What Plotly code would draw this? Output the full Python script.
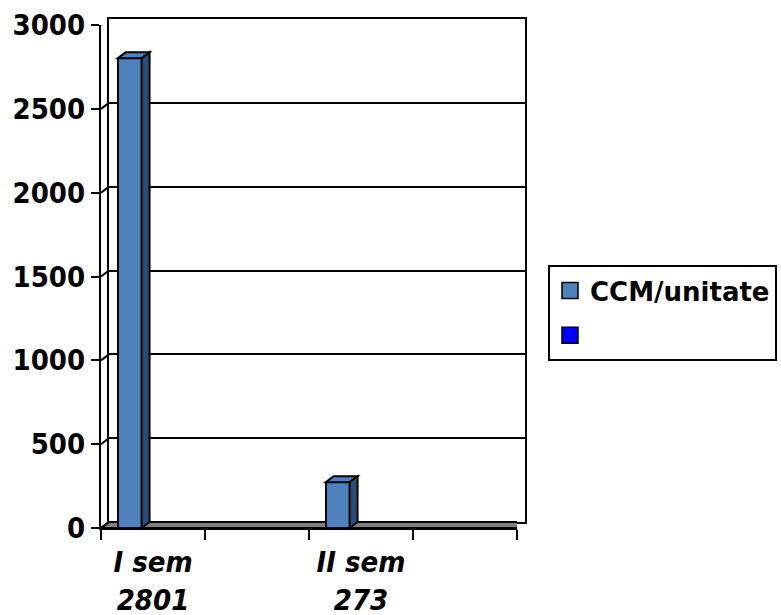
import plotly.graph_objects as go

# Chart data: four category slots, only two carry a value
categories = ["I sem", "", "II sem", ""]
ccm_values = [2801, None, 273, None]
y_ticks = [0, 500, 1000, 1500, 2000, 2500, 3000]
series_name = "CCM/unitate"
second_name = ""

# Colours
bar_color = "#4F81BD"
side_color = "#2C4D75"
top_color = "#4F81BD"
second_color = "#0000FF"
floor_color = "#808080"

# Canvas and plot-area geometry (pixels)
W, H = 781, 615
left, right, top, bottom = 101, 517, 25, 528
dx, dy = 8, 6                      # depth of the pseudo-3D back wall
y_max = y_ticks[-1]
n = len(categories)

px_per_x = (right - left) / n
px_per_y = (bottom - top) / y_max
ddx = dx / px_per_x                # depth in data units
ddy = dy / px_per_y

bar_offset, bar_width = -0.34, 0.23

tick_pos = [i for i, v in enumerate(ccm_values) if v is not None]
tick_text = [f"{categories[i]}<br>{ccm_values[i]}" for i in tick_pos]

fig = go.Figure()

# Back wall (xaxis / yaxis): gridlines only, drawn first so it sits behind
fig.add_trace(go.Scatter(x=[None], y=[None], xaxis="x", yaxis="y",
                         showlegend=False, hoverinfo="skip"))

# Front subplot (xaxis2 / yaxis2): the bars and the labelled axes
fig.add_trace(go.Bar(
    x=list(range(n)), y=ccm_values, xaxis="x2", yaxis="y2",
    width=bar_width, offset=bar_offset,
    marker=dict(color=bar_color, line=dict(color="black", width=2)),
    showlegend=False, name=series_name,
))

# Legend entries
fig.add_trace(go.Scatter(
    x=[None], y=[None], xaxis="x2", yaxis="y2", mode="markers",
    name=series_name,
    marker=dict(symbol="square", size=18, color=bar_color,
                line=dict(color="black", width=1.5)),
    legendgroup="a",
))
fig.add_trace(go.Scatter(
    x=[None], y=[None], xaxis="x2", yaxis="y2", mode="markers",
    name=second_name,
    marker=dict(symbol="square", size=18, color=second_color,
                line=dict(color="black", width=1.5)),
    legendgroup="b",
))

shapes = []
# Floor slab
shapes.append(dict(
    type="path", xref="x2", yref="y2", layer="below",
    path=(f"M{-0.5},0 L{n - 0.5},0 L{n - 0.5 + ddx},{ddy} "
          f"L{-0.5 + ddx},{ddy} Z"),
    fillcolor=floor_color, line=dict(color="black", width=2),
))
# Slanted tick connectors from front axis to back wall
for v in y_ticks:
    shapes.append(dict(
        type="line", xref="x2", yref="y2", layer="above",
        x0=-0.5, y0=v, x1=-0.5 + ddx, y1=v + ddy,
        line=dict(color="black", width=2),
    ))
# Top and side faces of each bar
for i, v in enumerate(ccm_values):
    if v is None:
        continue
    l = i + bar_offset
    r = l + bar_width
    shapes.append(dict(
        type="path", xref="x2", yref="y2", layer="above",
        path=f"M{l},{v} L{r},{v} L{r + ddx},{v + ddy} L{l + ddx},{v + ddy} Z",
        fillcolor=top_color, line=dict(color="black", width=2),
    ))
    shapes.append(dict(
        type="path", xref="x2", yref="y2", layer="above",
        path=f"M{r},0 L{r},{v} L{r + ddx},{v + ddy} L{r + ddx},{ddy} Z",
        fillcolor=side_color, line=dict(color="black", width=2),
    ))

tick_font = dict(family="DejaVu Sans Condensed", size=29, color="black",
                 weight="bold")
cat_font = dict(family="DejaVu Sans Condensed", size=29, color="black",
                weight="bold", style="italic")

fig.update_layout(
    width=W, height=H,
    margin=dict(l=0, r=0, t=0, b=0, autoexpand=False),
    paper_bgcolor="white", plot_bgcolor="rgba(0,0,0,0)",
    bargap=0,
    shapes=shapes,
    xaxis=dict(
        domain=[(left + dx) / W, (right + dx) / W], range=[-0.5, n - 0.5],
        anchor="y",
        showticklabels=False, ticks="", showgrid=False, zeroline=False,
        showline=True, mirror=True, linecolor="black", linewidth=2,
    ),
    yaxis=dict(
        domain=[1 - (bottom - dy) / H, 1 - (top - dy) / H], range=[0, y_max],
        anchor="x",
        tickmode="array", tickvals=y_ticks,
        showticklabels=False, ticks="",
        showgrid=True, gridcolor="black", gridwidth=2, zeroline=False,
        showline=True, mirror=True, linecolor="black", linewidth=2,
    ),
    xaxis2=dict(
        domain=[left / W, right / W], range=[-0.5, n - 0.5], anchor="y2",
        tickmode="array", tickvals=tick_pos, ticktext=tick_text,
        ticks="", tickfont=cat_font, ticklabelstandoff=7,
        showline=True, linecolor="black", linewidth=2,
        showgrid=False, zeroline=False,
        minor=dict(tickmode="linear", tick0=-0.5, dtick=1, ticks="outside",
                   ticklen=10, tickwidth=2, tickcolor="black", showgrid=False),
    ),
    yaxis2=dict(
        domain=[1 - bottom / H, 1 - top / H], range=[0, y_max], anchor="x2",
        tickmode="array", tickvals=y_ticks,
        ticks="outside", ticklen=8, tickwidth=2, tickcolor="black",
        tickfont=tick_font,
        showline=True, linecolor="black", linewidth=2,
        showgrid=False, zeroline=False,
    ),
    legend=dict(
        x=548 / W, y=1 - 265 / H, xanchor="left", yanchor="top",
        bordercolor="black", borderwidth=2, bgcolor="white",
        font=dict(family="DejaVu Sans", size=26, color="black", weight="bold"),
        traceorder="grouped", tracegroupgap=8,
    ),
)

fig.write_html("out.html")
